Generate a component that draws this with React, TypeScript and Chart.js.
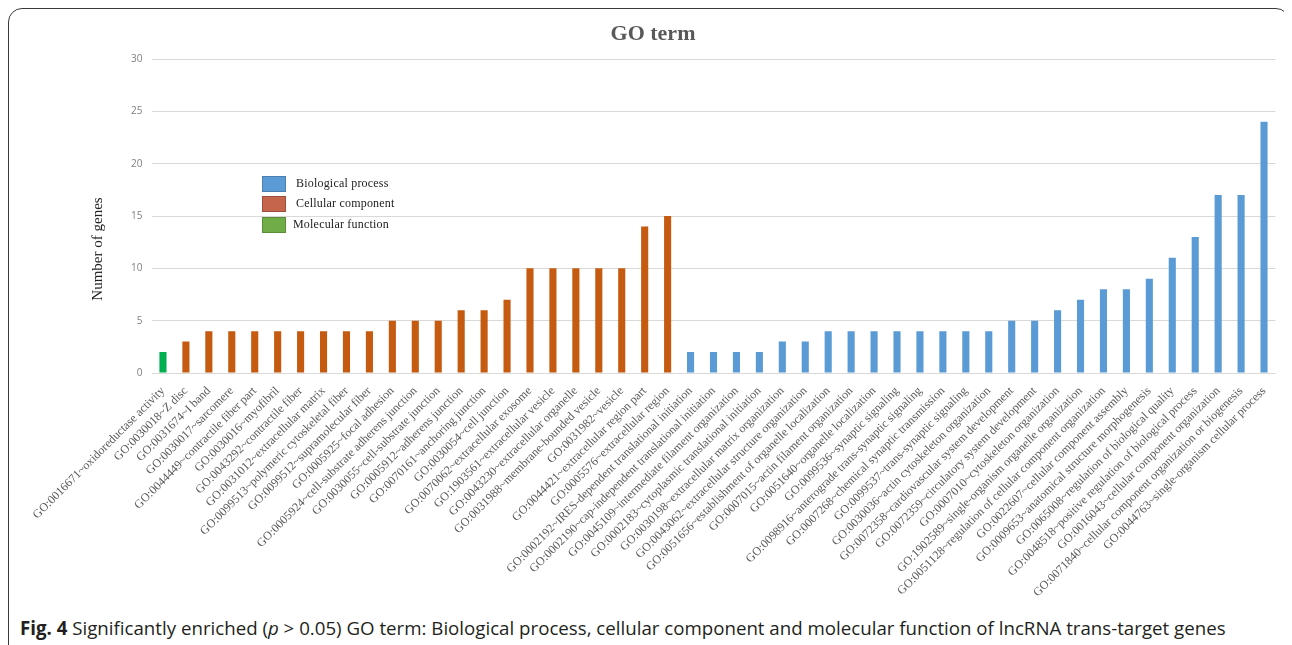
import React, { useEffect, useRef } from "react";
import { Chart, registerables } from "chart.js";

Chart.register(...registerables);

const categories: string[] = [
  "GO:0016671~oxidoreductase activity",
  "GO:0030018~Z disc",
  "GO:0031674~I band",
  "GO:0030017~sarcomere",
  "GO:0044449~contractile fiber part",
  "GO:0030016~myofibril",
  "GO:0043292~contractile fiber",
  "GO:0031012~extracellular matrix",
  "GO:0099513~polymeric cytoskeletal fiber",
  "GO:0099512~supramolecular fiber",
  "GO:0005925~focal adhesion",
  "GO:0005924~cell-substrate adherens junction",
  "GO:0030055~cell-substrate junction",
  "GO:0005912~adherens junction",
  "GO:0070161~anchoring junction",
  "GO:0030054~cell junction",
  "GO:0070062~extracellular exosome",
  "GO:1903561~extracellular vesicle",
  "GO:0043230~extracellular organelle",
  "GO:0031988~membrane-bounded vesicle",
  "GO:0031982~vesicle",
  "GO:0044421~extracellular region part",
  "GO:0005576~extracellular region",
  "GO:0002192~IRES-dependent translational initiation",
  "GO:0002190~cap-independent translational initiation",
  "GO:0045109~intermediate filament organization",
  "GO:0002183~cytoplasmic translational initiation",
  "GO:0030198~extracellular matrix organization",
  "GO:0043062~extracellular structure organization",
  "GO:0051656~establishment of organelle localization",
  "GO:0007015~actin filament organization",
  "GO:0051640~organelle localization",
  "GO:0099536~synaptic signaling",
  "GO:0098916~anterograde trans-synaptic signaling",
  "GO:0007268~chemical synaptic transmission",
  "GO:0099537~trans-synaptic signaling",
  "GO:0030036~actin cytoskeleton organization",
  "GO:0072358~cardiovascular system development",
  "GO:0072359~circulatory system development",
  "GO:0007010~cytoskeleton organization",
  "GO:1902589~single-organism organelle organization",
  "GO:0051128~regulation of cellular component organization",
  "GO:0022607~cellular component assembly",
  "GO:0009653~anatomical structure morphogenesis",
  "GO:0065008~regulation of biological quality",
  "GO:0048518~positive regulation of biological process",
  "GO:0016043~cellular component organization",
  "GO:0071840~cellular component organization or biogenesis",
  "GO:0044763~single-organism cellular process",
];

const geneCounts: number[] = [
  2,
  3, 4, 4, 4, 4, 4, 4, 4, 4, 5, 5, 5, 6, 6, 7, 10, 10, 10, 10, 10, 14, 15,
  2, 2, 2, 2, 3, 3, 4, 4, 4, 4, 4, 4, 4, 4, 5, 5, 6, 7, 8, 8, 9, 11, 13, 17, 17, 24,
];

// group of each category: "MF", "CC", "BP"
const groups: string[] = [
  "MF",
  "CC", "CC", "CC", "CC", "CC", "CC", "CC", "CC", "CC", "CC", "CC", "CC", "CC", "CC", "CC",
  "CC", "CC", "CC", "CC", "CC", "CC", "CC",
  "BP", "BP", "BP", "BP", "BP", "BP", "BP", "BP", "BP", "BP", "BP", "BP", "BP", "BP", "BP",
  "BP", "BP", "BP", "BP", "BP", "BP", "BP", "BP", "BP", "BP", "BP",
];

const legendLabels: string[] = ["Biological process", "Cellular component", "Molecular function"];
const yTicks: number[] = [0, 5, 10, 15, 20, 25, 30];

const barColors: Record<string, string> = { BP: "#5B9BD5", CC: "#C55A11", MF: "#00B050" };
const legendFill: string[] = ["#5B9BD5", "#C5654B", "#70AD47"];
const legendBorder: string[] = ["#4A7FB0", "#A0503A", "#5A8C39"];

export default function App() {
  const canvasRef = useRef<HTMLCanvasElement | null>(null);

  useEffect(() => {
    if (!canvasRef.current) return;
    const chart = new Chart(canvasRef.current, {
      type: "bar",
      data: {
        labels: categories,
        datasets: [
          {
            data: geneCounts,
            backgroundColor: groups.map((g) => barColors[g]),
            barPercentage: 0.31,
            categoryPercentage: 1,
          },
        ],
      },
      options: {
        animation: false,
        responsive: false,
        maintainAspectRatio: false,
        layout: { padding: { left: 0, right: 9.5, top: 49, bottom: 0 } },
        plugins: {
          legend: { display: false },
          tooltip: { enabled: false },
          title: { display: false },
        },
        scales: {
          x: {
            grid: { display: false },
            border: { display: false },
            ticks: {
              autoSkip: false,
              maxRotation: 45,
              minRotation: 45,
              padding: 3,
              color: "#5A5A5A",
              font: { family: "'Liberation Serif', serif", size: 12 },
            },
            afterFit: (scale: any) => {
              scale.height = 237;
              scale.paddingLeft = 0;
              scale.paddingRight = 0;
            },
          },
          y: {
            min: 0,
            max: 30,
            afterBuildTicks: (scale: any) => {
              scale.ticks = yTicks.map((v) => ({ value: v }));
            },
            grid: { color: "#D9D9D9", drawTicks: false },
            border: { display: false },
            ticks: {
              padding: 9,
              color: "#7F7F7F",
              font: { family: "'Open Sans', sans-serif", size: 10 },
            },
            afterFit: (scale: any) => {
              scale.width = 131.5;
            },
          },
        },
      },
    });
    return () => chart.destroy();
  }, []);

  const legendTops = [175, 195, 216];

  return (
    <div
      style={{
        position: "relative",
        width: 1282,
        height: 660,
        boxSizing: "border-box",
        border: "1.5px solid #3a3a3a",
        borderRadius: 14,
        background: "#fff",
      }}
    >
      <style>{`html,body{overflow:hidden;}`}</style>
      <div style={{ position: "absolute", left: 11, top: 1, width: 1265, height: 600 }}>
        <canvas ref={canvasRef} width={1265} height={600} style={{ width: 1265, height: 600 }} />
      </div>
      <div
        style={{
          position: "absolute",
          left: 544,
          top: 10.5,
          width: 200,
          textAlign: "center",
          fontFamily: "'Liberation Serif', serif",
          fontSize: 22,
          fontWeight: "bold",
          color: "#595959",
          lineHeight: "26px",
          whiteSpace: "nowrap",
        }}
      >
        GO term
      </div>
      <div
        style={{
          position: "absolute",
          left: 88 - 80,
          top: 240 - 10,
          width: 160,
          textAlign: "center",
          transform: "rotate(-90deg)",
          transformOrigin: "50% 50%",
          fontFamily: "'Liberation Serif', serif",
          fontSize: 15,
          color: "#222",
          lineHeight: "20px",
        }}
      >
        Number of genes
      </div>
      {legendLabels.map((lab, i) => (
        <div key={lab} style={{ position: "absolute", left: 253, top: legendTops[i] - 9, height: 17, display: "flex", alignItems: "center" }}>
          <div
            style={{
              width: 24,
              height: 16,
              boxSizing: "border-box",
              background: legendFill[i],
              border: `1px solid ${legendBorder[i]}`,
            }}
          />
          <div
            style={{
              marginLeft: i === 2 ? 7 : 10,
              fontFamily: "'Liberation Serif', serif",
              fontSize: 12,
              color: "#222",
              letterSpacing: 0.2,
              whiteSpace: "nowrap",
            }}
          >
            {lab}
          </div>
        </div>
      ))}
      <div
        style={{
          position: "absolute",
          left: 11,
          top: 606,
          whiteSpace: "nowrap",
          fontFamily: "'Open Sans', sans-serif",
          fontSize: 18.7,
          color: "#231F20",
        }}
      >
        <b>Fig. 4</b> Significantly enriched (<i>p</i> &gt; 0.05) GO term: Biological process, cellular component and molecular function of lncRNA trans-target genes
      </div>
    </div>
  );
}
